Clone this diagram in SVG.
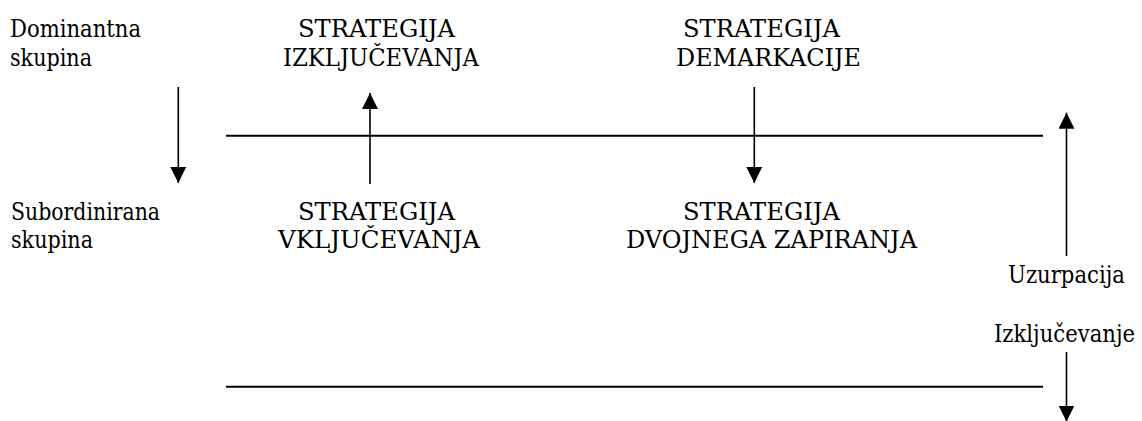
<svg xmlns="http://www.w3.org/2000/svg" width="1142" height="421" viewBox="0 0 1142 421">
<style>
text{font-family:"DejaVu Serif","Liberation Serif",serif;font-size:24px;fill:#000}
.rule{stroke:#000;stroke-width:2;fill:none}
.arr{stroke:#000;stroke-width:1.6;fill:none;marker-end:url(#ah)}
</style>
<defs>
<marker id="ah" markerUnits="userSpaceOnUse" markerWidth="16" markerHeight="16" refX="15" refY="7.5" orient="auto" viewBox="0 0 15 15">
<path d="M0,0 L15,7.5 L0,15 z" fill="#000"/>
</marker>
</defs>
<rect width="1142" height="421" fill="#fff"/>
<g id="dominantna">
<text x="10" y="36.5" textLength="131" lengthAdjust="spacingAndGlyphs">Dominantna</text>
<text x="10" y="66" textLength="82" lengthAdjust="spacingAndGlyphs">skupina</text>
</g>
<g id="subordinirana">
<text x="11" y="219.5" textLength="149" lengthAdjust="spacingAndGlyphs">Subordinirana</text>
<text x="11" y="248" textLength="82" lengthAdjust="spacingAndGlyphs">skupina</text>
</g>
<g id="izkljucevanje-strat">
<text x="298" y="36.5" textLength="157" lengthAdjust="spacingAndGlyphs">STRATEGIJA</text>
<text x="283" y="66" textLength="196" lengthAdjust="spacingAndGlyphs">IZKLJUČEVANJA</text>
</g>
<g id="vkljucevanje-strat">
<text x="298" y="219.5" textLength="157" lengthAdjust="spacingAndGlyphs">STRATEGIJA</text>
<text x="278" y="248" textLength="202" lengthAdjust="spacingAndGlyphs">VKLJUČEVANJA</text>
</g>
<g id="demarkacije-strat">
<text x="683" y="36.5" textLength="157" lengthAdjust="spacingAndGlyphs">STRATEGIJA</text>
<text x="676" y="66" textLength="185" lengthAdjust="spacingAndGlyphs">DEMARKACIJE</text>
</g>
<g id="dvojnega-strat">
<text x="683" y="219.5" textLength="157" lengthAdjust="spacingAndGlyphs">STRATEGIJA</text>
<text x="626" y="248" textLength="291" lengthAdjust="spacingAndGlyphs">DVOJNEGA ZAPIRANJA</text>
</g>
<g id="uzurpacija">
<text x="1008" y="283" textLength="117" lengthAdjust="spacingAndGlyphs">Uzurpacija</text>
</g>
<g id="izkljucevanje">
<text x="994" y="342" textLength="141" lengthAdjust="spacingAndGlyphs">Izključevanje</text>
</g>
<g id="connectors">
<line class="rule" x1="226" y1="135.7" x2="1043" y2="135.7"/>
<line class="rule" x1="226" y1="386.7" x2="1043" y2="386.7"/>
<line class="arr" x1="178.3" y1="87" x2="178.3" y2="183"/>
<line class="arr" x1="370" y1="184" x2="370" y2="93"/>
<line class="arr" x1="754.3" y1="87" x2="754.3" y2="183"/>
<line class="arr" x1="1066.5" y1="256" x2="1066.5" y2="112.7"/>
<line class="arr" x1="1066.5" y1="352" x2="1066.5" y2="421.5"/>
</g>
</svg>
